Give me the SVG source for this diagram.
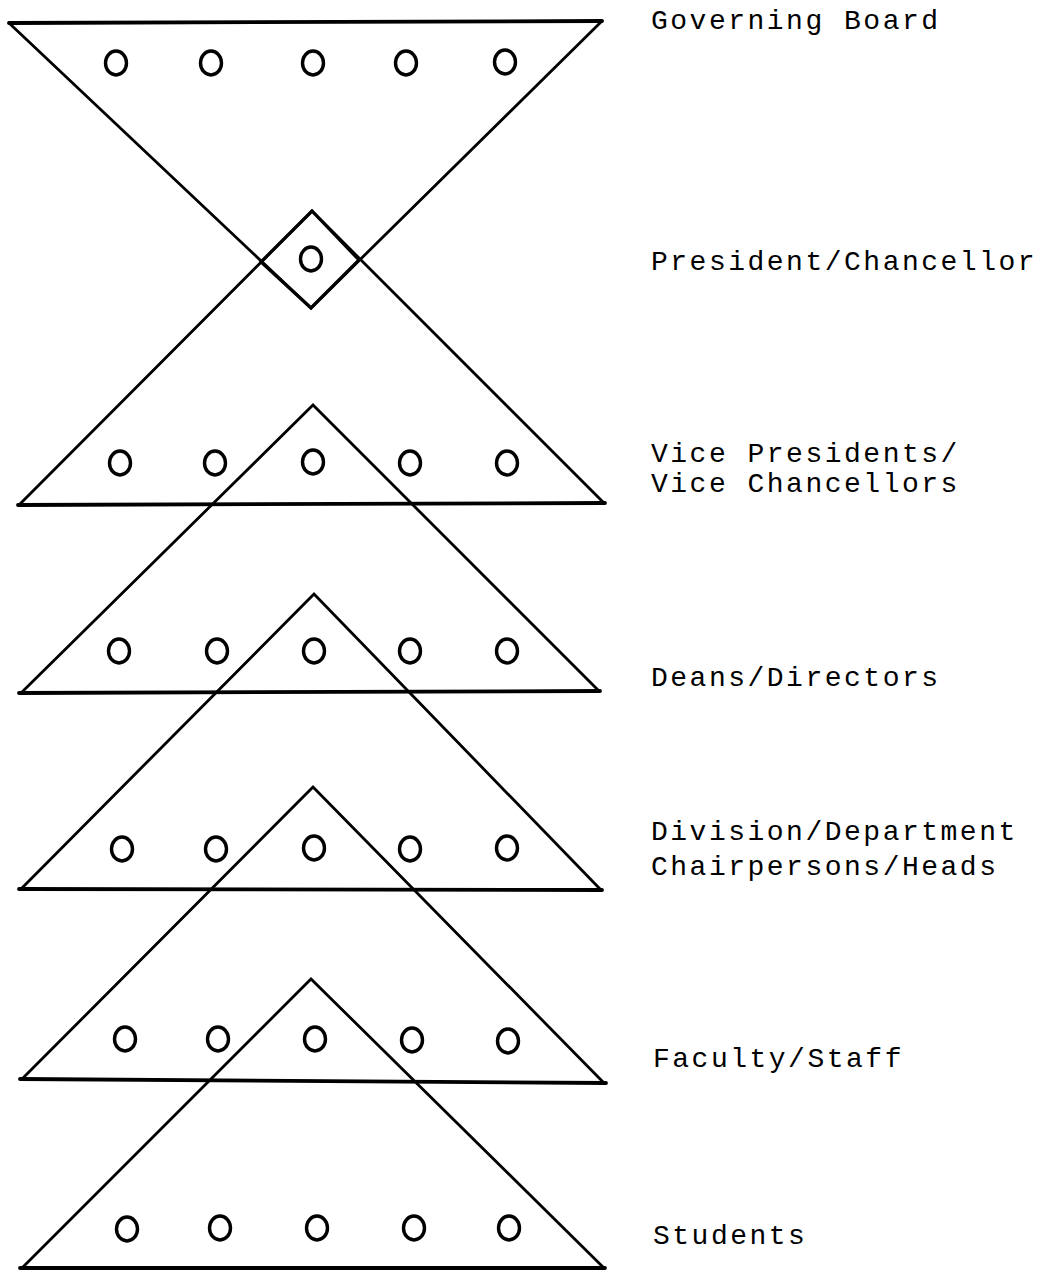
<svg xmlns="http://www.w3.org/2000/svg" width="1047" height="1271" viewBox="0 0 1047 1271">
<style>
.side{fill:none;stroke:#000;stroke-width:2.8;stroke-linejoin:miter;stroke-linecap:round}
.base{fill:none;stroke:#000;stroke-width:3.8;stroke-linecap:round}
.dot{fill:none;stroke:#000;stroke-width:3.4}
.lbl{font-family:"Liberation Mono","DejaVu Sans Mono",monospace;font-size:28px;letter-spacing:2.5px;fill:#000}
</style>
<rect width="1047" height="1271" fill="#fff"/>
<g id="governing-board">
<line class="base" x1="9" y1="23" x2="602" y2="21"/>
<polyline class="side" points="9,23 311,308 602,21"/>
<g class="dots">
<ellipse class="dot" cx="116" cy="63" rx="10.5" ry="12"/>
<ellipse class="dot" cx="211" cy="63" rx="10.5" ry="12"/>
<ellipse class="dot" cx="313" cy="63" rx="10.5" ry="12"/>
<ellipse class="dot" cx="406" cy="63" rx="10.5" ry="12"/>
<ellipse class="dot" cx="505" cy="62" rx="10.5" ry="12"/>
</g>
<text class="lbl" x="651" y="29">Governing Board</text>
</g>
<g id="president">
<polygon class="side" points="312,211 359,260 311,308 261,262" style="stroke-width:3.2"/>
<ellipse class="dot" cx="311" cy="259" rx="10.5" ry="12"/>
<text class="lbl" x="651" y="270">President/Chancellor</text>
</g>
<g id="vice-presidents">
<polyline class="side" points="20,504 312,211 604,503"/>
<line class="base" x1="18" y1="505" x2="605" y2="503"/>
<ellipse class="dot" cx="120" cy="463" rx="10.5" ry="12"/>
<ellipse class="dot" cx="215" cy="463" rx="10.5" ry="12"/>
<ellipse class="dot" cx="313" cy="462" rx="10.5" ry="12"/>
<ellipse class="dot" cx="410" cy="463" rx="10.5" ry="12"/>
<ellipse class="dot" cx="507" cy="463" rx="10.5" ry="12"/>
<text class="lbl" x="651" y="462">Vice Presidents/</text>
<text class="lbl" x="651" y="492">Vice Chancellors</text>
</g>
<g id="deans">
<polyline class="side" points="21,693 313,405 599,691"/>
<line class="base" x1="19" y1="693" x2="600" y2="691"/>
<ellipse class="dot" cx="119" cy="651" rx="10.5" ry="12"/>
<ellipse class="dot" cx="217" cy="651" rx="10.5" ry="12"/>
<ellipse class="dot" cx="314" cy="651" rx="10.5" ry="12"/>
<ellipse class="dot" cx="410" cy="651" rx="10.5" ry="12"/>
<ellipse class="dot" cx="507" cy="651" rx="10.5" ry="12"/>
<text class="lbl" x="651" y="686">Deans/Directors</text>
</g>
<g id="division-heads">
<polyline class="side" points="21,889 314,594 601,890"/>
<line class="base" x1="19" y1="889" x2="602" y2="890"/>
<ellipse class="dot" cx="122" cy="849" rx="10.5" ry="12"/>
<ellipse class="dot" cx="216" cy="849" rx="10.5" ry="12"/>
<ellipse class="dot" cx="314" cy="848" rx="10.5" ry="12"/>
<ellipse class="dot" cx="410" cy="849" rx="10.5" ry="12"/>
<ellipse class="dot" cx="507" cy="848" rx="10.5" ry="12"/>
<text class="lbl" x="651" y="840">Division/Department</text>
<text class="lbl" x="651" y="875">Chairpersons/Heads</text>
</g>
<g id="faculty-staff">
<polyline class="side" points="22,1079 313,787 604,1083"/>
<line class="base" x1="20" y1="1079" x2="606" y2="1083"/>
<ellipse class="dot" cx="125" cy="1039" rx="10.5" ry="12"/>
<ellipse class="dot" cx="218" cy="1039" rx="10.5" ry="12"/>
<ellipse class="dot" cx="315" cy="1039" rx="10.5" ry="12"/>
<ellipse class="dot" cx="412" cy="1040" rx="10.5" ry="12"/>
<ellipse class="dot" cx="508" cy="1041" rx="10.5" ry="12"/>
<text class="lbl" x="653" y="1067">Faculty/Staff</text>
</g>
<g id="students">
<polyline class="side" points="22,1268 311,979 603,1267"/>
<line class="base" x1="20" y1="1268" x2="605" y2="1268"/>
<ellipse class="dot" cx="127" cy="1229" rx="10.5" ry="12"/>
<ellipse class="dot" cx="220" cy="1228" rx="10.5" ry="12"/>
<ellipse class="dot" cx="317" cy="1228" rx="10.5" ry="12"/>
<ellipse class="dot" cx="414" cy="1228" rx="10.5" ry="12"/>
<ellipse class="dot" cx="509" cy="1228" rx="10.5" ry="12"/>
<text class="lbl" x="653" y="1244">Students</text>
</g>
</svg>
